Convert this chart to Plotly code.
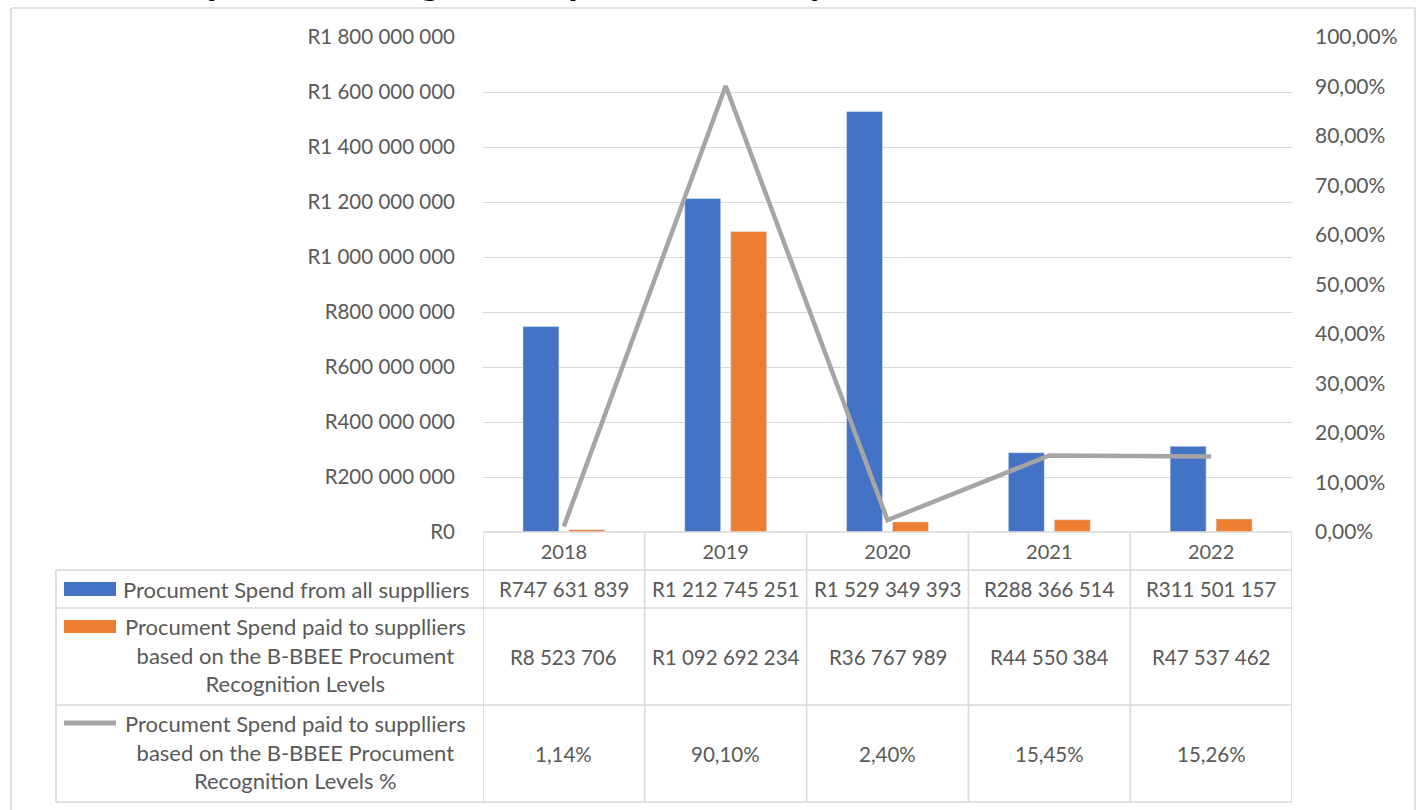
import plotly.graph_objects as go

# ---------------- data ----------------
years = ["2018", "2019", "2020", "2021", "2022"]
spend_all = [747631839, 1212745251, 1529349393, 288366514, 311501157]
spend_bbbee = [8523706, 1092692234, 36767989, 44550384, 47537462]
bbbee_pct = [1.14, 90.10, 2.40, 15.45, 15.26]

series_names = [
    "Procument Spend from all supplliers",
    "Procument Spend paid to supplliers<br>based on the B-BBEE Procument<br>Recognition Levels",
    "Procument Spend paid to supplliers<br>based on the B-BBEE Procument<br>Recognition Levels %",
]
title_text = "<b>period ending 30<sup>th</sup> September each year</b>"
y_tickvals = [0, 200e6, 400e6, 600e6, 800e6, 1000e6, 1200e6, 1400e6, 1600e6, 1800e6]

# ---------------- style ----------------
BLUE, ORANGE, GREY = "#4472C4", "#ED7D31", "#A5A5A5"
TXT = "#595959"
GRID = "#D9D9D9"
FONT = "Lato"

W, H = 1416, 810
L, R, T, B = 483, 1292, 37, 532


def px_x(px):
    return (px - L) / (R - L)


def px_y(py):
    return (B - py) / (B - T)


def money(v):
    return "R" + f"{int(v):,}".replace(",", " ")


def pct(p):
    return f"{p:.2f}%".replace(".", ",")


fig = go.Figure()
fig.add_trace(go.Bar(x=years, y=spend_all, name=series_names[0],
                     marker_color=BLUE, showlegend=False))
fig.add_trace(go.Bar(x=years, y=spend_bbbee, name=series_names[1],
                     marker_color=ORANGE, showlegend=False))
fig.add_trace(go.Scatter(x=years, y=[p / 100 for p in bbbee_pct], name=series_names[2],
                         yaxis="y2", mode="lines",
                         line=dict(color=GREY, width=4.5), showlegend=False))

shapes = []
line_style = dict(color=GRID, width=1.6)

# table rows (pixel y of boundaries)
row_bounds = [532, 570, 608, 705, 802]
row_centers = [551, 589, 656.5, 753.5]
table_left = 56

# horizontal table lines
shapes.append(dict(type="line", xref="paper", yref="paper",
                   x0=0, x1=1, y0=px_y(row_bounds[0]), y1=px_y(row_bounds[0]), line=line_style))
for rb in row_bounds[1:]:
    shapes.append(dict(type="line", xref="paper", yref="paper",
                       x0=px_x(table_left), x1=1, y0=px_y(rb), y1=px_y(rb), line=line_style))
# vertical table lines
shapes.append(dict(type="line", xref="paper", yref="paper",
                   x0=px_x(table_left), x1=px_x(table_left),
                   y0=px_y(row_bounds[1]), y1=px_y(row_bounds[-1]), line=line_style))
for i in range(len(years) + 1):
    shapes.append(dict(type="line", xref="x", yref="paper",
                       x0=i - 0.5, x1=i - 0.5,
                       y0=px_y(row_bounds[0]), y1=px_y(row_bounds[-1]), line=line_style))

# outer chart border
shapes.append(dict(type="line", xref="paper", yref="paper",
                   x0=px_x(11), x1=px_x(11), y0=px_y(8), y1=px_y(815), line=line_style))
shapes.append(dict(type="line", xref="paper", yref="paper",
                   x0=px_x(11), x1=px_x(1415), y0=px_y(8), y1=px_y(8), line=line_style))
shapes.append(dict(type="line", xref="paper", yref="paper",
                   x0=px_x(1415), x1=px_x(1415), y0=px_y(8), y1=px_y(815), line=line_style))

# legend keys inside the table
shapes.append(dict(type="rect", xref="paper", yref="paper",
                   x0=px_x(64), x1=px_x(116), y0=px_y(582), y1=px_y(596),
                   fillcolor=BLUE, line=dict(width=0)))
shapes.append(dict(type="rect", xref="paper", yref="paper",
                   x0=px_x(64), x1=px_x(116), y0=px_y(620), y1=px_y(633),
                   fillcolor=ORANGE, line=dict(width=0)))
shapes.append(dict(type="line", xref="paper", yref="paper",
                   x0=px_x(64), x1=px_x(116), y0=px_y(723), y1=px_y(723),
                   line=dict(color=GREY, width=5)))

annotations = []
label_font = dict(family=FONT, size=22, color=TXT)
value_font = dict(family=FONT, size=20.5, color=TXT)
# row labels
annotations.append(dict(x=px_x(121), y=px_y(row_centers[1]), xref="paper", yref="paper",
                        text=series_names[0], showarrow=False, xanchor="left",
                        yanchor="middle", font=label_font))
for k in (1, 2):
    annotations.append(dict(x=px_x(295), y=px_y(row_centers[k + 1] - 2), xref="paper", yref="paper",
                            text=series_names[k], showarrow=False, xanchor="center",
                            yanchor="middle", align="center", font=label_font))
# cell values
rows = [[money(v) for v in spend_all], [money(v) for v in spend_bbbee], [pct(p) for p in bbbee_pct]]
for r, vals in enumerate(rows):
    for i, t in enumerate(vals):
        annotations.append(dict(x=i, y=px_y(row_centers[r + 1]), xref="x", yref="paper",
                                text=t, showarrow=False, xanchor="center", yanchor="middle",
                                font=value_font))
# (cropped) title
annotations.append(dict(x=px_x(205), y=px_y(5), xref="paper", yref="paper",
                        text=title_text, showarrow=False, xanchor="left", yanchor="bottom",
                        font=dict(family=FONT, size=38, color="#000000")))

fig.update_layout(
    width=W, height=H, autosize=False,
    margin=dict(l=L, r=W - R, t=T, b=H - B, pad=0),
    paper_bgcolor="white", plot_bgcolor="white",
    separators=", ",
    font=dict(family=FONT, size=20, color=TXT),
    barmode="group", bargap=0.432, bargroupgap=0.217,
    xaxis=dict(type="category", range=[-0.5, 4.5], showgrid=False, showline=False,
               zeroline=False, ticks="", tickfont=dict(family=FONT, size=20, color=TXT),
               ticklabelstandoff=6),
    yaxis=dict(range=[0, 1.8e9], tickmode="array", tickvals=y_tickvals,
               ticktext=[money(v) for v in y_tickvals],
               showgrid=True, gridcolor=GRID, gridwidth=1.3, zeroline=False, showline=False,
               ticks="", tickfont=dict(family=FONT, size=20.5, color=TXT),
               ticklabelstandoff=27),
    yaxis2=dict(range=[0, 1], dtick=0.1, tick0=0, tickformat=".2%", overlaying="y",
                side="right", showgrid=False, zeroline=False, showline=False, ticks="",
                tickfont=dict(family=FONT, size=21, color=TXT), ticklabelstandoff=22),
    shapes=shapes,
    annotations=annotations,
)

fig.write_html("out.html", config={"displayModeBar": False},
               post_script="document.body.style.margin='0';")
